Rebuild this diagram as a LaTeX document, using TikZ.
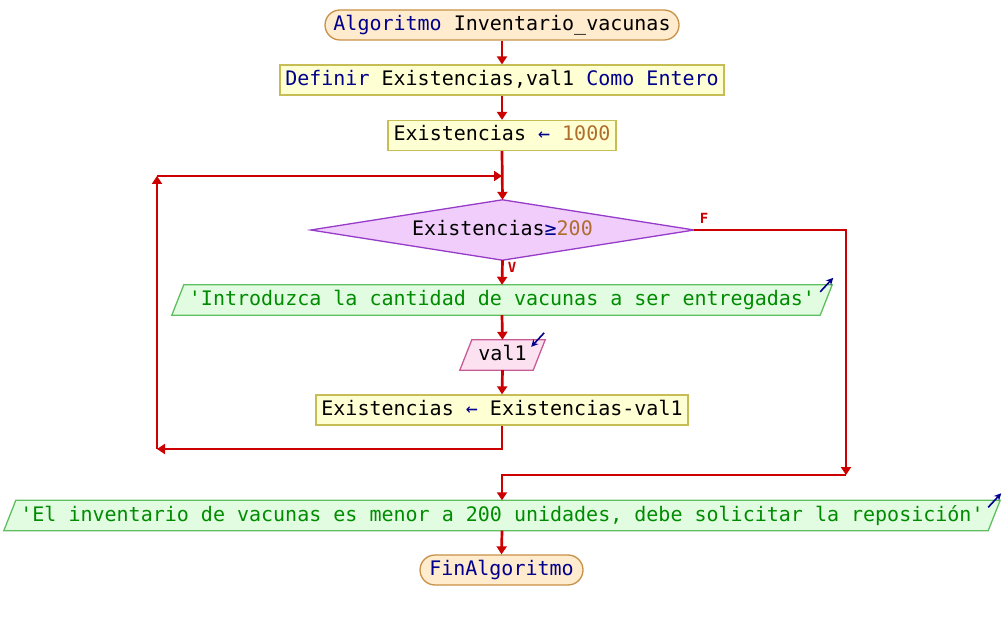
\documentclass[tikz,border=0pt]{standalone}
\usepackage{fontspec}
\setmonofont{DejaVu Sans Mono}
\usetikzlibrary{calc,backgrounds,arrows.meta}

\definecolor{flowred}{RGB}{204,0,0}
\definecolor{kwblue}{RGB}{0,0,140}
\definecolor{numbrown}{RGB}{175,110,45}
\definecolor{termfill}{RGB}{255,235,205}
\definecolor{termline}{RGB}{200,145,70}
\definecolor{procfill}{RGB}{255,255,212}
\definecolor{procline}{RGB}{198,190,85}
\definecolor{condfill}{RGB}{240,205,250}
\definecolor{condline}{RGB}{150,60,200}
\definecolor{outfill}{RGB}{226,252,226}
\definecolor{outline}{RGB}{95,190,95}
\definecolor{outtext}{RGB}{0,140,0}
\definecolor{infill}{RGB}{252,226,240}
\definecolor{inline}{RGB}{200,90,150}

\begin{document}
\begin{tikzpicture}[x=1pt,y=-1pt,
  every node/.style={font=\ttfamily\fontsize{20}{24}\selectfont, inner sep=0pt,
                     text height=15pt, text depth=4pt},
  term/.style={draw=termline, fill=termfill, line width=1.3pt,
               rounded corners=15pt, minimum height=30pt},
  proc/.style={draw=procline, fill=procfill, line width=1.3pt, minimum height=30pt},
  frame/.style={minimum height=30pt},
  flow/.style={draw=flowred, line width=2.7pt, -{Triangle[length=8pt,width=10pt]}},
  io/.style={draw=kwblue, line width=1.6pt, -{Stealth[length=7pt,width=7pt]}},
  lbl/.style={font=\ttfamily\bfseries\fontsize{14}{16}\selectfont, text=flowred,
              text height=10pt, text depth=0pt}
]
\useasboundingbox (0,0) rectangle (1004,620);

% blocks of the algorithm
\node[term, minimum width=354pt] (start) at (502,25)
  {\textcolor{kwblue}{Algoritmo} Inventario\_vacunas};
\node[proc, minimum width=444pt] (def) at (502,80)
  {\textcolor{kwblue}{Definir} Existencias,val1 \textcolor{kwblue}{Como Entero}};
\node[proc, minimum width=228pt] (init) at (502,135.5)
  {Existencias \textcolor{kwblue}{←} \textcolor{numbrown}{1000}};
\node[frame, minimum width=383pt, minimum height=60pt] (cond) at (502.5,230)
  {Existencias\textcolor{kwblue}{≥}\textcolor{numbrown}{200}};
\node[frame, minimum width=660pt] (ask) at (502,300)
  {\textcolor{outtext}{'Introduzca la cantidad de vacunas a ser entregadas'}};
\node[frame, minimum width=85pt] (read) at (502.5,355) {val1};
\node[proc, minimum width=372pt] (upd) at (502,410)
  {Existencias \textcolor{kwblue}{←} Existencias-val1};
\node[frame, minimum width=996pt] (warn) at (502,515.5)
  {\textcolor{outtext}{'El inventario de vacunas es menor a 200 unidades, debe solicitar la reposición'}};
\node[term, minimum width=163pt] (fin) at (501.5,570)
  {\textcolor{kwblue}{FinAlgoritmo}};

% outlines of the decision and the input/output blocks
\begin{scope}[on background layer]
  \filldraw[fill=condfill, draw=condline, line width=1.3pt]
    (cond.west) -- (cond.north) -- (cond.east) -- (cond.south) -- cycle;
  \filldraw[fill=outfill, draw=outline, line width=1.3pt]
    (ask.south west) -- ($(ask.north west)+(12,0)$) -- (ask.north east)
    -- ($(ask.south east)+(-12,0)$) -- cycle;
  \filldraw[fill=infill, draw=inline, line width=1.3pt]
    (read.south west) -- ($(read.north west)+(12,0)$) -- (read.north east)
    -- ($(read.south east)+(-12,0)$) -- cycle;
  \filldraw[fill=outfill, draw=outline, line width=1.3pt]
    (warn.south west) -- ($(warn.north west)+(12,0)$) -- (warn.north east)
    -- ($(warn.south east)+(-12,0)$) -- cycle;
\end{scope}

% input / output markers
\draw[io] ($(ask.north east)+(-12,7)$) -- ($(ask.north east)+(1,-7)$);
\draw[io] ($(read.north east)+(-1,-7)$) -- ($(read.north east)+(-14,7)$);
\draw[io] ($(warn.north east)+(-12,7)$) -- ($(warn.north east)+(1,-7)$);

% loop and branch corners
\coordinate (loopB) at (157,449);
\coordinate (loopC) at (157,176);
\coordinate (loopD) at (502,176);
\coordinate (fDown) at (846,475);

% connectors
\draw[flow] (start.south) -- (def.north);
\draw[flow] (def.south) -- (init.north);
\draw[flow] (init.south) -- (cond.north);
\draw[flow] (cond.south) -- (ask.north);
\draw[flow] (ask.south) -- (read.north);
\draw[flow] (read.south) -- (upd.north);
\draw[flow] (upd.south) |- (loopB);
\draw[flow] (loopB) -- (loopC);
\draw[flow] (loopC) -- (loopD);
\draw[flow] (cond.east) -| (fDown);
\draw[flow] (fDown) -| (warn.north);
\draw[flow] (warn.south) -- (fin.north);

% branch labels
\node[lbl] (tF) at (704,219) {F};
\node[lbl] (tV) at (512,268) {V};
\end{tikzpicture}
\end{document}
